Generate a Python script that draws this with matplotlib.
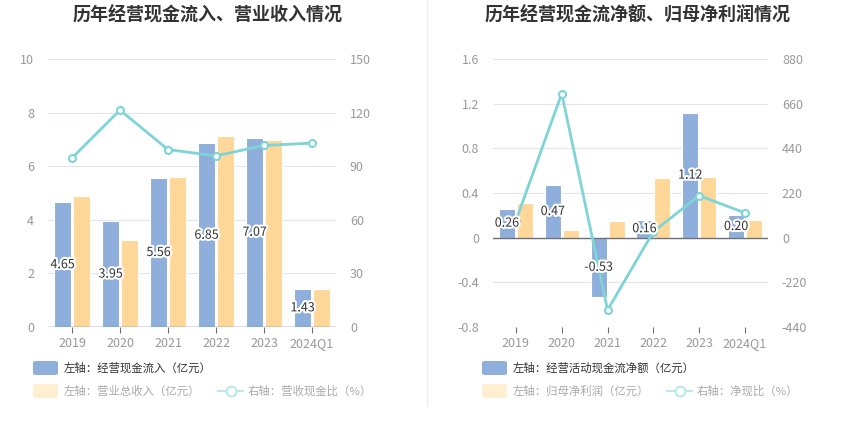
import matplotlib
matplotlib.use("Agg")
import matplotlib.pyplot as plt
import matplotlib.patheffects as pe
from matplotlib.patches import FancyBboxPatch
from matplotlib.lines import Line2D
import numpy as np

plt.rcParams['font.family'] = ['Noto Sans CJK SC', 'DejaVu Sans']

years = ['2019', '2020', '2021', '2022', '2023', '2024Q1']

# left chart
cash_in = [4.65, 3.95, 5.56, 6.85, 7.07, 1.43]
revenue = [4.90, 3.24, 5.59, 7.12, 6.96, 1.40]
cash_ratio = [94.6, 121.4, 99.3, 95.8, 101.6, 102.9]

# right chart
net_cash = [0.26, 0.47, -0.53, 0.16, 1.12, 0.20]
net_profit = [0.31, 0.07, 0.15, 0.53, 0.54, 0.16]
net_ratio = [84, 710, -356, 30, 207, 122]

BLUE = '#8eaedb'
YELLOW = '#ffd899'
TEAL = '#7fd4d7'
GRID = '#e0e6f1'
TICK = '#999999'

W, H = 850, 437
fig = plt.figure(figsize=(8.5, 4.37), dpi=100)


def px_axes(x0, y0, x1, y1):
    return fig.add_axes([x0 / W, 1 - y1 / H, (x1 - x0) / W, (y1 - y0) / H])


def draw_panel(ax, bars1, bars2, line, ylim, yticks, y2lim, y2ticks, ylabfmt):
    x = np.arange(len(years))
    w = 0.35
    ax.bar(x - 0.195, bars1, width=w, color=BLUE, edgecolor='white', linewidth=0.8, zorder=2)
    ax.bar(x + 0.195, bars2, width=w, color=YELLOW, edgecolor='white', linewidth=0.8, zorder=2)
    ax.set_xlim(-0.5, len(years) - 0.5)
    ax.set_ylim(*ylim)
    ax.set_yticks(yticks)
    ax.set_yticklabels([ylabfmt(v) for v in yticks])
    ax.set_xticks(x)
    ax.set_xticklabels(years)
    ax.grid(axis='y', color=GRID, linewidth=0.8, zorder=0)
    ax.set_axisbelow(True)
    for s in ['top', 'right', 'left', 'bottom']:
        ax.spines[s].set_visible(False)
    ax.axhline(0, color='#6e7079', linewidth=1, zorder=3)
    ax.tick_params(axis='y', length=0, colors=TICK, labelsize=9, pad=10)
    ax.tick_params(axis='x', length=4, color='#6e7079', colors='#999999', labelsize=9, pad=3)

    ax2 = ax.twinx()
    ax2.set_ylim(*y2lim)
    ax2.set_yticks(y2ticks)
    ax2.set_yticklabels([str(v) for v in y2ticks])
    ax2.tick_params(axis='y', length=0, colors=TICK, labelsize=9, pad=10)
    for s in ax2.spines.values():
        s.set_visible(False)
    ax2.plot(x, line, color=TEAL, linewidth=2, marker='o', markersize=5,
             markerfacecolor='white', markeredgecolor=TEAL, markeredgewidth=1.5, zorder=4)
    # value labels on top of everything
    for i, v in enumerate(bars1):
        ax2.text(i - 0.195, v / 2, f'{v:.2f}', ha='center', va='center', fontsize=9,
                 color='#333333', zorder=6, transform=ax.transData,
                 path_effects=[pe.withStroke(linewidth=3, foreground='white')])
    return ax2


axL = px_axes(48, 59, 336, 327)
draw_panel(axL, cash_in, revenue, cash_ratio, (0, 10), [0, 2, 4, 6, 8, 10],
           (0, 150), [0, 30, 60, 90, 120, 150], lambda v: f'{v:g}')

axR = px_axes(493, 59, 768, 327)
draw_panel(axR, net_cash, net_profit, net_ratio, (-0.8, 1.6), [-0.8, -0.4, 0, 0.4, 0.8, 1.2, 1.6],
           (-440, 880), [-440, -220, 0, 220, 440, 660, 880], lambda v: '0' if v == 0 else f'{v:.1f}')

# titles
fig.text(208 / W, 1 - 15 / H, '历年经营现金流入、营业收入情况', ha='center', va='center',
         fontsize=13, fontweight='bold', color='#333333')
fig.text(638 / W, 1 - 15 / H, '历年经营现金流净额、归母净利润情况', ha='center', va='center',
         fontsize=13, fontweight='bold', color='#333333')

# separator
fig.add_artist(Line2D([427 / W, 427 / W], [1 - 405 / H, 1.0], color='#eeeeee', linewidth=1))


def legend_patch(x, y, color, label, tcolor):
    fig.add_artist(FancyBboxPatch((x / W, 1 - (y + 7) / H), 25 / W, 14 / H,
                                  boxstyle='round,pad=0,rounding_size=0.004',
                                  facecolor=color, edgecolor='none', transform=fig.transFigure))
    fig.text((x + 31) / W, 1 - y / H, label, ha='left', va='center', fontsize=8.2, color=tcolor)


def legend_line(x, y, label):
    fig.add_artist(Line2D([x / W, (x + 25) / W], [1 - y / H, 1 - y / H], color='#b9e9eb', linewidth=1.5,
                          transform=fig.transFigure))
    fig.add_artist(Line2D([(x + 12.5) / W], [1 - y / H], color='#b9e9eb', marker='o', markersize=7,
                          markerfacecolor='white', markeredgewidth=1.5, transform=fig.transFigure))
    fig.text((x + 30) / W, 1 - y / H, label, ha='left', va='center', fontsize=8.2, color='#aaaaaa')


legend_patch(33, 368, BLUE, '左轴：经营现金流入（亿元）', '#333333')
legend_patch(33, 391, '#ffefd1', '左轴：营业总收入（亿元）', '#aaaaaa')
legend_line(218, 391, '右轴：营收现金比（%）')

legend_patch(482, 368, BLUE, '左轴：经营活动现金流净额（亿元）', '#333333')
legend_patch(482, 391, '#ffefd1', '左轴：归母净利润（亿元）', '#aaaaaa')
legend_line(667, 391, '右轴：净现比（%）')

fig.savefig('out.png', dpi=100)
